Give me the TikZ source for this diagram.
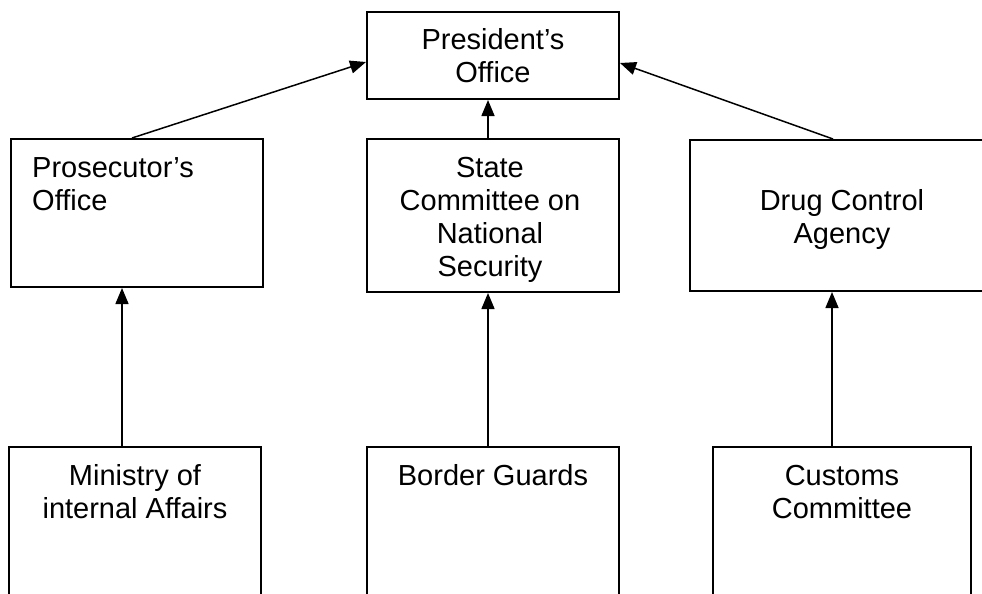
\documentclass[tikz,border=0pt]{standalone}
\usepackage{fontspec}
\setmainfont{Liberation Sans}
\usetikzlibrary{arrows.meta}

\begin{document}
\begin{tikzpicture}[x=1pt, y=-1pt,
  box/.style={draw, line width=2pt, rectangle, inner sep=0pt},
  lbl/.style={inner sep=0pt, font=\fontsize{29}{33}\selectfont},
  arr/.style={line width=1.5pt, -{Triangle[length=16pt, width=13pt]}}]
  \useasboundingbox (0,0) rectangle (982,594);
  \clip (0,0) rectangle (982,594);

  % top level
  \node[box, minimum width=252pt, minimum height=87pt] (pres) at (493,55.5) {};
  % middle row
  \node[box, minimum width=252pt, minimum height=148pt] (pros) at (137,213) {};
  \node[box, minimum width=252pt, minimum height=153pt] (sc) at (493,215.5) {};
  \node[box, minimum width=304pt, minimum height=151pt] (dca) at (842,215.5) {};
  % bottom row (runs past the lower edge)
  \node[box, minimum width=252pt, minimum height=200pt] (mia) at (135,547) {};
  \node[box, minimum width=252pt, minimum height=200pt] (bg) at (493,547) {};
  \node[box, minimum width=258pt, minimum height=200pt] (cc) at (842,547) {};

  % labels (anchored at the baseline of their last line)
  \node[lbl, anchor=base, align=center] (presT) at (493,82) {President’s\\Office};
  \node[lbl, anchor=base west, align=left] (prosT) at (32,210) {Prosecutor’s\\Office};
  \node[lbl, anchor=base, align=center] (scT) at (490,276) {State\\Committee on\\National\\Security};
  \node[lbl, anchor=base, align=center] (dcaT) at (842,243) {Drug Control\\Agency};
  \node[lbl, anchor=base, align=center] (miaT) at (135,518) {Ministry of\\internal Affairs};
  \node[lbl, anchor=base, align=center] (bgT) at (493,485) {Border Guards};
  \node[lbl, anchor=base, align=center] (ccT) at (842,518) {Customs\\Committee};

  % reporting lines
  \draw[arr] ([xshift=-5pt]pros.north) -- ([yshift=-6.5pt]pres.west);
  \draw[arr] ([xshift=-9pt]dca.north) -- ([yshift=-7.5pt]pres.east);
  \draw[arr] ([xshift=-5pt]sc.north) -- ([xshift=-5pt]pres.south);
  \draw[arr] ([xshift=-13pt]mia.north) -- ([xshift=-15pt]pros.south);
  \draw[arr] ([xshift=-5pt]bg.north) -- ([xshift=-5pt]sc.south);
  \draw[arr] ([xshift=-10pt]cc.north) -- ([xshift=-10pt]dca.south);
\end{tikzpicture}
\end{document}
